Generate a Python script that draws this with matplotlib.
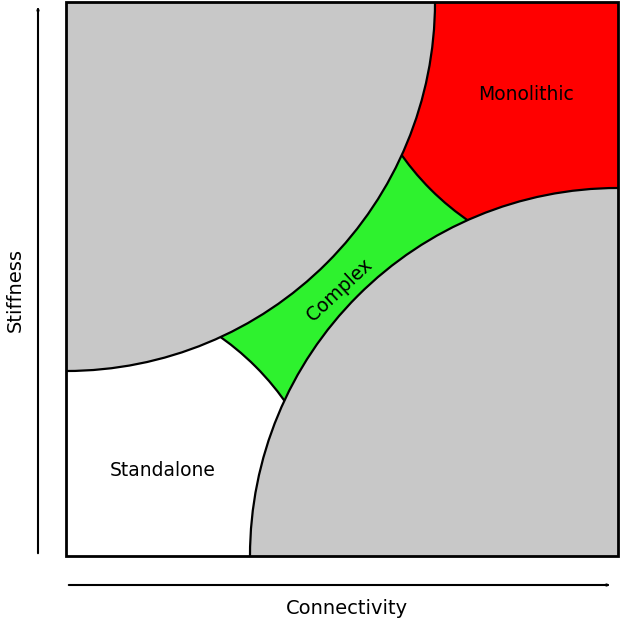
import matplotlib
matplotlib.use("Agg")
import matplotlib.pyplot as plt
from matplotlib.patches import Circle, Rectangle

# chart space (pixels of the original box): x 0..552, y 0..554
W, H = 552, 554
region_names = ["Standalone", "Monolithic", "Upper gray", "Lower gray"]
region_centers = [(0, 0), (W, H), (0, H), (W, 0)]
region_radii = [268, 265, 369, 368]
region_colors = ["white", "#ff0000", "#c8c8c8", "#c8c8c8"]
middle_color = "#2ef22e"

labels = ["Standalone", "Monolithic", "Complex"]
label_pos = [(97, 85), (460, 461), (274, 266)]
label_rot = [0, 0, 43]

fig = plt.figure(figsize=(6.25, 6.28), dpi=100)
ax = fig.add_axes([66 / 625, 72 / 628, 552 / 625, 554 / 628])
ax.set_xlim(0, W)
ax.set_ylim(0, H)
ax.axis("off")

box = Rectangle((0, 0), W, H, facecolor=middle_color, edgecolor="none", zorder=0)
ax.add_patch(box)
for c, r, col in zip(region_centers, region_radii, region_colors):
    p = Circle(c, r, facecolor=col, edgecolor="black", lw=1.6, zorder=1)
    ax.add_patch(p)
    p.set_clip_path(box)
ax.add_patch(Rectangle((0, 0), W, H, facecolor="none", edgecolor="black", lw=2, zorder=3, clip_on=False))

for t, (x, y), rot in zip(labels, label_pos, label_rot):
    ax.text(x, y, t, ha="center", va="center", rotation=rot, fontsize=13.5, zorder=4)

# axis arrows
arrow = dict(arrowstyle="-|>,head_length=1.2,head_width=0.4", color="black", lw=1.5)
fig.add_artist(plt.matplotlib.patches.FancyArrowPatch(
    (38 / 625, 1 - 556 / 628), (38 / 625, 1 - 3 / 628), transform=fig.transFigure, **arrow))
fig.add_artist(plt.matplotlib.patches.FancyArrowPatch(
    (66 / 625, 1 - 585 / 628), (614 / 625, 1 - 585 / 628), transform=fig.transFigure, **arrow))
fig.text(15 / 625, 1 - 290 / 628, "Stiffness", rotation=90, ha="center", va="center", fontsize=14)
fig.text(347 / 625, 1 - 609 / 628, "Connectivity", ha="center", va="center", fontsize=14)

fig.savefig("out.png", dpi=100)
